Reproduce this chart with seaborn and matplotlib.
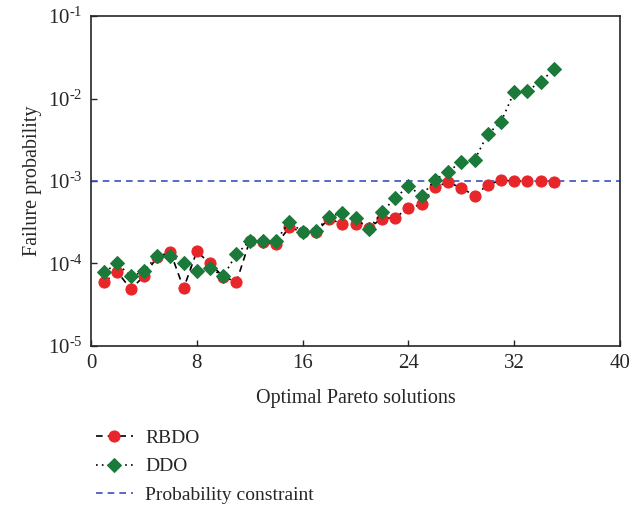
import numpy as np
import pandas as pd
import matplotlib
matplotlib.use("Agg")
import matplotlib.pyplot as plt
import seaborn as sns

# Pareto solution index
solutions = list(range(1, 36))

# Failure probability of each Pareto solution
rbdo = [6.0e-5, 7.9e-5, 4.9e-5, 7.0e-5, 1.2e-4, 1.38e-4, 5.0e-5, 1.4e-4, 1.0e-4, 6.9e-5,
        6.0e-5, 1.87e-4, 1.8e-4, 1.7e-4, 2.75e-4, 2.4e-4, 2.4e-4, 3.5e-4, 3.0e-4, 3.0e-4,
        2.7e-4, 3.5e-4, 3.6e-4, 4.7e-4, 5.2e-4, 8.5e-4, 9.6e-4, 8.3e-4, 6.6e-4, 9.0e-4,
        1.02e-3, 1.0e-3, 1.0e-3, 1.0e-3, 9.8e-4]
ddo = [7.9e-5, 1.0e-4, 7.0e-5, 8.0e-5, 1.25e-4, 1.25e-4, 1.0e-4, 8.0e-5, 8.8e-5, 7.0e-5,
       1.3e-4, 1.87e-4, 1.9e-4, 1.9e-4, 3.2e-4, 2.4e-4, 2.5e-4, 3.7e-4, 4.1e-4, 3.6e-4,
       2.6e-4, 4.2e-4, 6.2e-4, 8.7e-4, 6.6e-4, 1.03e-3, 1.3e-3, 1.7e-3, 1.8e-3, 3.7e-3,
       5.2e-3, 1.2e-2, 1.25e-2, 1.58e-2, 2.28e-2]
constraint = 1e-3

x_ticks = [0, 8, 16, 24, 32, 40]
y_ticks = [1e-5, 1e-4, 1e-3, 1e-2, 1e-1]

df = pd.DataFrame({"solution": solutions, "RBDO": rbdo, "DDO": ddo})

sns.set_style("ticks")
plt.rcParams["font.family"] = ["Liberation Serif", "DejaVu Serif"]
plt.rcParams["mathtext.fontset"] = "custom"
plt.rcParams["mathtext.rm"] = "Liberation Serif"
plt.rcParams["mathtext.it"] = "Liberation Serif:italic"

fig = plt.figure(figsize=(6.29, 5.08), dpi=100)
ax = fig.add_axes([0.1447, 0.3189, 0.841, 0.6496])

red = "#e8262a"
green = "#1b7a3a"
blue = "#3b4fbf"

sns.lineplot(data=df, x="solution", y="RBDO", ax=ax, color="black", linestyle=(0, (4, 3)),
             linewidth=1.2, marker="o", markersize=8, markerfacecolor=red,
             markeredgecolor=red, label="RBDO", zorder=3)
sns.lineplot(data=df, x="solution", y="DDO", ax=ax, color="black", linestyle=(0, (1, 2.5)),
             linewidth=1.2, marker="D", markersize=7, markerfacecolor=green,
             markeredgecolor=green, label="DDO", zorder=4)
ax.axhline(constraint, color=blue, linestyle=(0, (4, 3)), linewidth=1.2,
           label="Probability constraint", zorder=2)

ax.set_yscale("log")
ax.set_xlim(0, 40)
ax.set_ylim(1e-5, 1e-1)
ax.set_xticks(x_ticks)
ax.set_yticks(y_ticks)
ax.yaxis.set_minor_locator(matplotlib.ticker.NullLocator())
ax.yaxis.set_major_formatter(matplotlib.ticker.FuncFormatter(
    lambda v, pos: r"$10^{\text{-}%d}$" % round(-np.log10(v))))
ax.tick_params(direction="in", length=4, width=1, labelsize=15, pad=6)
for s in ax.spines.values():
    s.set_visible(True)
    s.set_linewidth(1.2)

ax.set_xlabel("Optimal Pareto solutions", fontsize=14.5, labelpad=11)
ax.set_ylabel("Failure probability", fontsize=14.5, labelpad=4)

ax.legend(loc="upper left", bbox_to_anchor=(0.14, 0.17), bbox_transform=fig.transFigure,
          frameon=False, fontsize=14, handlelength=1.9, handletextpad=0.65,
          labelspacing=0.55, borderaxespad=0)

fig.savefig("out.png", dpi=100)
